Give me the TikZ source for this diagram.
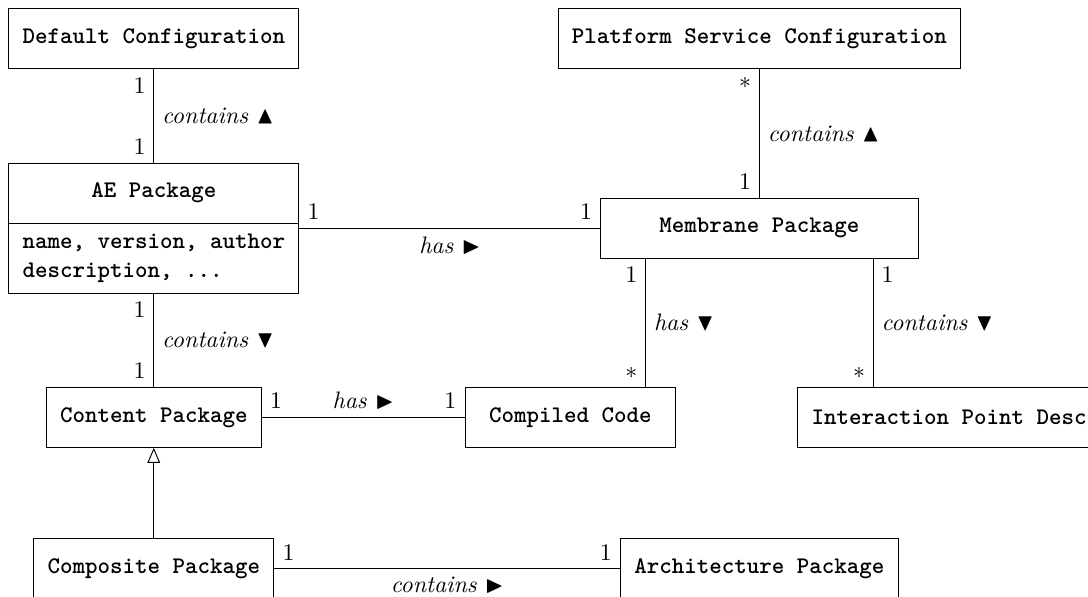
\documentclass[tikz,border=0pt]{standalone}
\usepackage{amsmath}
\usepackage{amssymb}
\usetikzlibrary{arrows.meta}

\begin{document}
\begin{tikzpicture}[
        cls/.style={draw, font=\ttfamily\bfseries, minimum height=0.886cm, inner xsep=5.8pt},
        mult/.style={inner sep=3.3pt},
        role/.style={font=\itshape}
    ]
        % Page frame (the picture is cut at the right and at the bottom)
        \clip (0,0) rectangle (16.06,-8.80);
        % Classes
        \node[cls] (defcfg) at (2.27,-0.57) {Default Configuration};
        \node[cls, minimum width=4.28cm] (ae) at (2.27,-2.85) {AE Package};
        \node[cls, minimum width=4.28cm, minimum height=1.033cm, align=left, anchor=north] (aeattr) at ([yshift=0.4pt]ae.south) {name, version, author\\description, ...};
        \node[cls] (psc) at (11.21,-0.57) {Platform Service Configuration};
        \node[cls, minimum width=4.68cm] (mp) at (11.21,-3.37) {Membrane Package};
        \node[cls] (cont) at (2.27,-6.16) {Content Package};
        \node[cls, minimum width=3.11cm] (cc) at (8.42,-6.16) {Compiled Code};
        \node[cls, anchor=west] (ipd) at (11.77,-6.16) {\makebox[8cm][l]{Interaction Point Desc}};
        \node[cls] (comp) at (2.27,-8.39) {Composite Package};
        \node[cls] (arch) at (11.21,-8.39) {Architecture Package};
        \coordinate (mpl) at ([xshift=-1.68cm]mp.south);
        \coordinate (mpr) at ([xshift=1.68cm]mp.south);
        % Associations
        \draw (defcfg) -- (ae)
            node[mult, pos=0, anchor=north east] {1}
            node[role, midway, right] {contains $\blacktriangle$}
            node[mult, pos=1, anchor=south east] {1};
        \draw (psc) -- (mp)
            node[mult, pos=0, anchor=north east] {$*$}
            node[role, midway, right] {contains $\blacktriangle$}
            node[mult, pos=1, anchor=south east] {1};
        \draw (aeattr.east |- mp.west) -- (mp.west)
            node[mult, pos=0, anchor=south west] {1}
            node[role, midway, below] {has $\blacktriangleright$}
            node[mult, pos=1, anchor=south east] {1};
        \draw (mpl) -- (mpl |- cc.north)
            node[mult, pos=0, anchor=north east] {1}
            node[role, midway, right] {has $\blacktriangledown$}
            node[mult, pos=1, anchor=south east] {$*$};
        \draw (mpr) -- (mpr |- ipd.north)
            node[mult, pos=0, anchor=north west] {1}
            node[role, midway, right] {contains $\blacktriangledown$}
            node[mult, pos=1, anchor=south east] {$*$};
        \draw (aeattr) -- (cont)
            node[mult, pos=0, anchor=north east] {1}
            node[role, midway, right] {contains $\blacktriangledown$}
            node[mult, pos=1, anchor=south east] {1};
        \draw (cont) -- (cc)
            node[mult, pos=0, anchor=south west] {1}
            node[role, midway, above] {has $\blacktriangleright$}
            node[mult, pos=1, anchor=south east] {1};
        % Generalisation
        \draw[-{Triangle[open, length=6.3pt, width=5.3pt]}] (comp) -- (cont);
        \draw (comp) -- (arch)
            node[mult, pos=0, anchor=south west] {1}
            node[role, midway, below] {contains $\blacktriangleright$}
            node[mult, pos=1, anchor=south east] {1};
    \end{tikzpicture}
\end{document}
